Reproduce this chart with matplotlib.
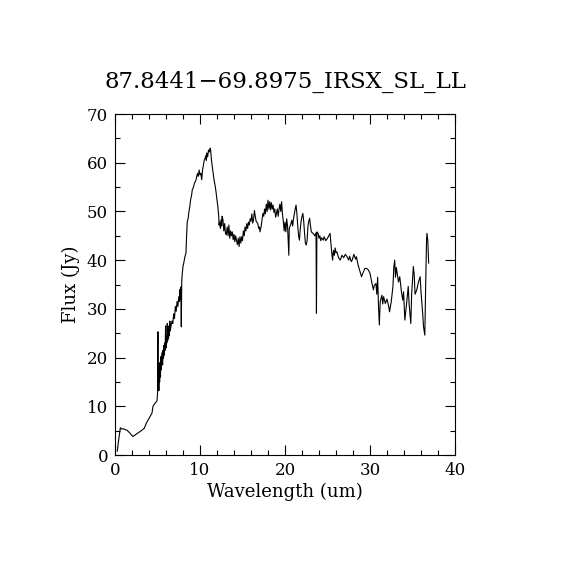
import matplotlib
matplotlib.use("Agg")
import matplotlib.pyplot as plt
from matplotlib.ticker import MultipleLocator

# spectrum (wavelength in um, flux in Jy)
wave = [
    0.27, 0.4, 0.63, 0.8, 1.0, 1.2, 1.4, 1.7, 2.1, 2.6,
    3.1, 3.45, 3.7, 4.0, 4.35, 4.47, 4.7, 4.94, 5.0, 5.05,
    5.08, 5.12, 5.16, 5.2, 5.25, 5.3, 5.35, 5.4, 5.45, 5.5,
    5.55, 5.6, 5.65, 5.7, 5.75, 5.8, 5.85, 5.9, 5.95, 6.0,
    6.05, 6.1, 6.15, 6.2, 6.25, 6.3, 6.35, 6.4, 6.45, 6.5,
    6.6, 6.7, 6.8, 6.9, 7.0, 7.1, 7.2, 7.3, 7.4, 7.5,
    7.6, 7.65, 7.7, 7.75, 7.8, 7.85, 7.9, 8.0, 8.1, 8.2,
    8.35, 8.4, 8.5, 8.6, 8.7, 8.8, 8.9, 9.0, 9.1, 9.2,
    9.3, 9.4, 9.5, 9.6, 9.7, 9.8, 9.9, 10.0, 10.1, 10.2,
    10.3, 10.4, 10.5, 10.6, 10.7, 10.75, 10.8, 10.9, 11.0, 11.1,
    11.2, 11.25, 11.35, 11.5, 11.65, 11.8, 11.9, 12.0, 12.1, 12.2,
    12.25, 12.3, 12.4, 12.5, 12.55, 12.6, 12.7, 12.8, 12.9, 13.0,
    13.1, 13.2, 13.3, 13.4, 13.5, 13.6, 13.7, 13.8, 13.9, 14.0,
    14.1, 14.2, 14.3, 14.4, 14.5, 14.6, 14.7, 14.8, 14.9, 15.0,
    15.1, 15.2, 15.3, 15.4, 15.5, 15.6, 15.7, 15.8, 15.9, 16.0,
    16.1, 16.2, 16.3, 16.4, 16.5, 16.6, 16.8, 16.9, 17.0, 17.06,
    17.2, 17.4, 17.5, 17.6, 17.7, 17.8, 17.9, 18.0, 18.1, 18.2,
    18.3, 18.4, 18.5, 18.6, 18.7, 18.8, 18.9, 19.0, 19.1, 19.2,
    19.3, 19.4, 19.5, 19.6, 19.7, 19.8, 19.9, 20.0, 20.1, 20.2,
    20.3, 20.45, 20.5, 20.7, 20.8, 20.9, 21.0, 21.1, 21.2, 21.3,
    21.4, 21.5, 21.6, 21.7, 21.8, 21.9, 22.0, 22.1, 22.2, 22.3,
    22.4, 22.5, 22.6, 22.7, 22.8, 22.9, 23.0, 23.1, 23.3, 23.5,
    23.65, 23.7, 23.75, 23.9, 24.0, 24.1, 24.2, 24.3, 24.5, 24.6,
    24.8, 25.0, 25.2, 25.3, 25.4, 25.5, 25.6, 25.7, 25.8, 25.9,
    26.0, 26.1, 26.3, 26.5, 26.7, 26.9, 27.1, 27.3, 27.5, 27.6,
    27.8, 27.9, 28.1, 28.3, 28.4, 28.6, 28.8, 29.0, 29.2, 29.4,
    29.6, 29.8, 30.0, 30.2, 30.4, 30.5, 30.7, 30.8, 30.9, 31.0,
    31.1, 31.2, 31.4, 31.5, 31.6, 31.8, 32.0, 32.2, 32.3, 32.5,
    32.7, 32.8, 32.9, 33.0, 33.1, 33.2, 33.35, 33.5, 33.7, 33.85,
    33.95, 34.1, 34.3, 34.5, 34.6, 34.8, 34.9, 35.1, 35.2, 35.3,
    35.5, 35.7, 35.9, 36.0, 36.2, 36.3, 36.45, 36.55, 36.65, 36.7,
    36.8, 36.9,
]
flux = [
    0.8, 2.7, 5.6, 5.3, 5.4, 5.2, 5.1, 4.6, 3.8, 4.4,
    5.0, 5.5, 6.6, 7.5, 8.6, 10.0, 10.6, 11.1, 12.5, 25.3,
    14.0, 17.5, 13.2, 18.5, 15.0, 19.0, 16.0, 20.2, 17.5, 19.5,
    21.0, 18.5, 21.5, 19.8, 22.5, 20.5, 23.0, 21.5, 26.5, 22.0,
    24.5, 23.0, 27.0, 23.5, 25.0, 24.0, 26.5, 24.5, 27.5, 25.5,
    26.5, 27.5, 27.0, 29.0, 28.0, 30.5, 29.5, 31.5, 30.5, 32.5,
    31.5, 34.0, 32.0, 34.5, 26.3, 35.5, 37.0, 38.7, 39.5, 40.5,
    41.5, 44.0, 47.9, 48.5, 50.0, 51.0, 52.5, 53.2, 54.5, 54.8,
    55.5, 56.0, 56.3, 57.0, 57.8, 57.2, 58.5, 57.5, 57.8, 56.5,
    58.5, 59.5, 60.5, 60.9, 61.5, 60.5, 62.0, 61.2, 62.6, 62.2,
    63.0, 62.6, 60.5, 58.5, 56.5, 55.1, 53.8, 52.3, 51.0, 49.0,
    47.2, 47.8, 46.5, 48.3, 47.0, 49.0, 48.3, 46.0, 47.5, 45.5,
    45.2, 46.8, 45.0, 47.2, 44.5, 46.0, 45.0, 45.8, 44.2, 45.3,
    43.8, 45.0, 44.0, 43.2, 44.5, 42.8, 44.8, 43.5, 44.8, 44.0,
    46.0, 45.0, 46.8, 46.0, 47.5, 46.5, 47.8, 47.2, 48.5, 48.0,
    49.5, 47.6, 48.3, 50.2, 49.0, 48.0, 47.5, 46.5, 46.8, 45.8,
    47.0, 49.6, 49.0, 50.5, 49.5, 51.5, 50.0, 52.3, 50.5, 52.0,
    50.3, 51.8, 50.5, 51.3, 49.8, 50.5, 48.8, 49.6, 50.5, 49.0,
    50.5, 51.5, 50.0, 52.0, 49.5, 48.0, 46.0, 47.8, 45.8, 48.5,
    47.0, 41.0, 46.5, 47.5, 48.2, 47.0, 48.5, 49.5, 50.5, 51.3,
    49.5, 47.0, 45.0, 44.1, 46.5, 48.0, 49.0, 49.6, 48.0, 45.5,
    43.5, 43.1, 44.0, 47.0, 48.0, 48.6, 47.0, 45.8, 45.5, 45.0,
    45.6, 29.1, 45.8, 45.5, 44.5, 45.0, 44.0, 44.6, 44.1, 44.8,
    44.0, 44.5, 45.2, 45.5, 43.5, 41.5, 40.0, 42.0, 41.0, 42.5,
    41.5, 41.7, 40.5, 40.0, 41.0, 40.5, 41.2, 40.7, 40.0, 40.8,
    39.7, 40.0, 41.2, 40.2, 40.7, 39.0, 37.8, 36.6, 37.5, 38.3,
    38.3, 38.0, 37.3, 35.5, 33.9, 34.8, 35.2, 33.0, 36.5, 30.5,
    26.7, 31.5, 32.8, 31.0, 32.5, 31.1, 32.0, 30.5, 29.4, 31.5,
    34.6, 38.5, 40.0, 36.5, 38.5, 37.3, 35.5, 36.6, 33.5, 31.8,
    33.5, 27.7, 31.0, 34.6, 31.0, 27.0, 33.0, 38.7, 37.0, 33.0,
    33.9, 35.5, 36.6, 33.5, 29.0, 26.3, 24.6, 35.0, 44.0, 45.5,
    44.0, 39.4,
]

title = "87.8441\u221269.8975_IRSX_SL_LL"

plt.rcParams["font.family"] = ["DejaVu Serif"]

fig = plt.figure(figsize=(5.7, 5.7), dpi=100)
ax = fig.add_axes([115 / 570, 115 / 570, 340 / 570, 341 / 570])

ax.plot(wave, flux, color="black", lw=0.8)

ax.set_xlim(0, 40)
ax.set_ylim(0, 70)
ax.xaxis.set_major_locator(MultipleLocator(10))
ax.xaxis.set_minor_locator(MultipleLocator(2))
ax.yaxis.set_major_locator(MultipleLocator(10))
ax.yaxis.set_minor_locator(MultipleLocator(5))
ax.tick_params(which="both", direction="in", top=True, right=True,
               width=0.8, labelsize=12, colors="black")
ax.tick_params(which="major", length=7, pad=5)
ax.tick_params(which="minor", length=3.5)
for s in ax.spines.values():
    s.set_linewidth(0.8)

ax.set_xlabel("Wavelength (um)", fontsize=13, labelpad=3)
ax.set_ylabel("Flux (Jy)", fontsize=13, labelpad=5)
fig.text(285 / 570, 1 - 82 / 570, title, fontsize=16.5, ha="center", va="center")

fig.savefig("out.png", dpi=100, facecolor="white")
